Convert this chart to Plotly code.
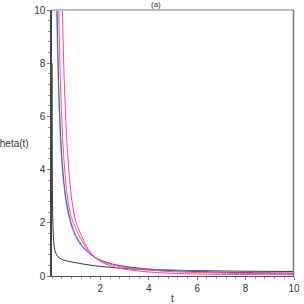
import plotly.graph_objects as go

# Read-off values from the reference
black_t = [0.005, 0.01, 0.02, 0.04, 0.07, 0.1, 0.15, 0.25, 0.4, 0.6, 0.8, 1.1, 1.5, 2, 2.5, 3, 4, 5, 6, 8, 10]
black_v = [8.0, 5.0, 3.0, 1.9, 1.3, 1.05, 0.87, 0.72, 0.63, 0.57, 0.53, 0.48, 0.42, 0.36, 0.32, 0.28, 0.24, 0.22, 0.2, 0.18, 0.17]

lblue_t = [0.19, 0.25, 0.3, 0.4, 0.5, 0.6, 0.8, 1.0, 1.25, 1.5, 1.75, 2, 2.5, 3, 4, 5, 6, 8, 10]
lblue_v = [10, 7.6, 6.1, 4.3, 3.3, 2.65, 1.88, 1.43, 1.08, 0.87, 0.7, 0.59, 0.45, 0.36, 0.26, 0.21, 0.175, 0.135, 0.115]

blue_t = [0.21, 0.25, 0.3, 0.4, 0.5, 0.6, 0.8, 1.0, 1.25, 1.5, 1.75, 2, 2.5, 3, 4, 5, 6, 8, 10]
blue_v = [10, 8.1, 6.5, 4.56, 3.47, 2.78, 1.96, 1.49, 1.13, 0.9, 0.72, 0.6, 0.45, 0.36, 0.26, 0.2, 0.165, 0.125, 0.1]

red_t = [0.28, 0.32, 0.36, 0.4, 0.45, 0.5, 0.6, 0.7, 0.8, 1.0, 1.25, 1.5, 1.75, 2, 2.5, 3, 4, 5, 6, 8, 10]
red_v = [10, 8.3, 7.0, 6.0, 5.0, 4.3, 3.25, 2.6, 2.2, 1.75, 1.3, 0.95, 0.72, 0.58, 0.42, 0.32, 0.22, 0.16, 0.13, 0.095, 0.075]

mag_t = [0.43, 0.46, 0.5, 0.55, 0.6, 0.7, 0.8, 0.9, 1.0, 1.25, 1.5, 1.75, 2, 2.5, 3, 4, 5, 6, 8, 10]
mag_v = [10, 8.9, 7.5, 6.3, 5.3, 3.95, 3.0, 2.4, 2.0, 1.45, 1.0, 0.72, 0.55, 0.36, 0.26, 0.15, 0.1, 0.075, 0.055, 0.045]

series = [
    (black_t, black_v, "#333333"),
    (lblue_t, lblue_v, "#a0a6e4"),
    (blue_t, blue_v, "#4a4ac0"),
    (red_t, red_v, "#ff5a5a"),
    (mag_t, mag_v, "#ff3cc8"),
]

fig = go.Figure()
for t, v, c in series:
    fig.add_trace(go.Scatter(x=t, y=v, mode="lines",
                             line=dict(color=c, width=1, shape="spline", smoothing=1.0),
                             showlegend=False, hoverinfo="skip"))

font = dict(family="Liberation Sans, Arial, sans-serif", size=10, color="#333333")
fig.update_layout(
    width=304, height=304,
    margin=dict(l=52, r=4, t=8, b=28),
    paper_bgcolor="white", plot_bgcolor="white",
    font=font,
    xaxis=dict(range=[0, 10], tickvals=[2, 4, 6, 8, 10], showgrid=False, zeroline=False,
               showline=True, linecolor="#555555", linewidth=1,
               ticks="outside", ticklen=3, tickcolor="#777777",
               ticklabeloverflow="allow",
               minor=dict(dtick=0.4, ticks="outside", ticklen=2, tickcolor="#999999"),
               tickfont=font),
    yaxis=dict(range=[0, 10], tickvals=[0, 2, 4, 6, 8, 10], showgrid=False, zeroline=False,
               showline=True, linecolor="#444444", linewidth=1.5,
               ticks="outside", ticklen=3, tickcolor="#777777",
               minor=dict(dtick=0.4, ticks="outside", ticklen=2, tickcolor="#999999"),
               tickfont=font),
    shapes=[
        dict(type="line", xref="paper", yref="paper", x0=0, x1=1, y0=1, y1=1,
             line=dict(color="#bbbbbb", width=2)),
        dict(type="line", xref="paper", yref="paper", x0=0.998, x1=0.998, y0=0, y1=1,
             line=dict(color="#777777", width=1.5)),
    ],
    annotations=[
        dict(text="theta(t)", xref="paper", yref="paper", x=-0.235, y=0.497,
             xanchor="left", yanchor="middle", showarrow=False, font=font),
        dict(text="t", xref="paper", yref="paper", x=0.499, y=-0.083,
             xanchor="center", yanchor="middle", showarrow=False, font=font),
        dict(text="(a)", xref="paper", yref="paper", x=0.43, y=0.995,
             xanchor="center", yanchor="bottom", showarrow=False,
             font=dict(family="Liberation Sans, Arial, sans-serif", size=8, color="#333333")),
    ],
)
fig.write_html("out.html", config={"displayModeBar": False},
               post_script="document.body.style.margin='0';document.body.style.overflow='hidden';")
